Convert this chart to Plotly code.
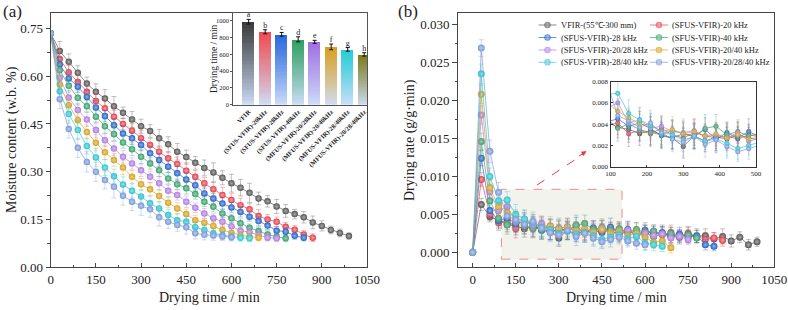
import numpy as np
import plotly.graph_objects as go

W, H = 788, 310
SERIF = "Liberation Serif"

# ---------------- data ----------------
series_names = ["VFIR-(55℃-300 mm)", "(SFUS-VFIR)-20 kHz", "(SFUS-VFIR)-28 kHz", "(SFUS-VFIR)-40 kHz",
                "(SFUS-VFIR)-20/28 kHz", "(SFUS-VFIR)-20/40 kHz", "(SFUS-VFIR)-28/40 kHz", "(SFUS-VFIR)-20/28/40 kHz"]
sample_interval = 30  # min

mc_vfir = [0.735, 0.679, 0.645, 0.611, 0.577, 0.551, 0.530, 0.506, 0.485, 0.464, 0.443, 0.428, 0.405, 0.386,
           0.363, 0.346, 0.328, 0.312, 0.298, 0.281, 0.264, 0.250, 0.234, 0.216, 0.207, 0.191, 0.177, 0.167,
           0.157, 0.141, 0.130, 0.117, 0.108, 0.098]
mc_20 = [0.735, 0.654, 0.612, 0.582, 0.551, 0.522, 0.499, 0.473, 0.450, 0.429, 0.405, 0.384, 0.363, 0.342,
         0.324, 0.303, 0.284, 0.264, 0.245, 0.227, 0.211, 0.195, 0.182, 0.161, 0.150, 0.143, 0.127, 0.118,
         0.103, 0.093]
mc_28 = [0.735, 0.637, 0.593, 0.567, 0.535, 0.502, 0.475, 0.446, 0.420, 0.405, 0.384, 0.358, 0.337, 0.316,
         0.295, 0.276, 0.258, 0.232, 0.216, 0.200, 0.188, 0.174, 0.159, 0.145, 0.131, 0.115, 0.112, 0.099, 0.093]
mc_40 = [0.735, 0.619, 0.570, 0.532, 0.506, 0.473, 0.443, 0.418, 0.392, 0.371, 0.347, 0.326, 0.305, 0.279,
         0.261, 0.248, 0.230, 0.206, 0.190, 0.169, 0.154, 0.138, 0.124, 0.114, 0.103, 0.096, 0.091]
mc_20_28 = [0.735, 0.595, 0.533, 0.494, 0.464, 0.431, 0.399, 0.373, 0.347, 0.326, 0.305, 0.284, 0.264, 0.240,
            0.227, 0.206, 0.187, 0.169, 0.154, 0.143, 0.129, 0.115, 0.110, 0.102, 0.093, 0.091]
mc_20_40 = [0.735, 0.574, 0.509, 0.462, 0.425, 0.391, 0.361, 0.337, 0.313, 0.284, 0.261, 0.245, 0.224, 0.203,
            0.185, 0.167, 0.148, 0.140, 0.130, 0.117, 0.108, 0.101, 0.096, 0.093]
mc_28_40 = [0.735, 0.553, 0.481, 0.431, 0.381, 0.345, 0.313, 0.286, 0.260, 0.240, 0.222, 0.201, 0.185, 0.164,
            0.148, 0.143, 0.126, 0.117, 0.106, 0.101, 0.096, 0.093, 0.091]
mc_20_28_40 = [0.735, 0.528, 0.434, 0.375, 0.331, 0.300, 0.274, 0.253, 0.225, 0.206, 0.193, 0.182, 0.157, 0.143,
               0.133, 0.126, 0.107, 0.102, 0.100, 0.097, 0.095]

mc_err_vfir = [0, 0.030, 0.025, 0.022, 0.020, 0.025, 0.028, 0.030, 0.018, 0.025, 0.022, 0.020, 0.028, 0.024,
               0.026, 0.022, 0.020, 0.025, 0.030, 0.022, 0.028, 0.026, 0.030, 0.020, 0.018, 0.022, 0.020, 0.015,
               0.018, 0.020, 0.016, 0.012, 0.012, 0.010]
mc_err_20 = [0, 0.025, 0.022, 0.020, 0.018, 0.022, 0.025, 0.020, 0.018, 0.022, 0.024, 0.020, 0.018, 0.020, 0.022,
             0.025, 0.020, 0.018, 0.022, 0.024, 0.020, 0.022, 0.018, 0.020, 0.016, 0.015, 0.014, 0.013, 0.012, 0.012]
mc_err_28 = [0, 0.022, 0.020, 0.018, 0.020, 0.022, 0.018, 0.020, 0.025, 0.020, 0.018, 0.022, 0.020, 0.018, 0.022,
             0.020, 0.018, 0.020, 0.016, 0.018, 0.015, 0.016, 0.014, 0.015, 0.013, 0.012, 0.012, 0.011, 0.010]
mc_err_40 = [0, 0.022, 0.020, 0.022, 0.018, 0.020, 0.022, 0.020, 0.018, 0.020, 0.022, 0.018, 0.020, 0.018, 0.016,
             0.018, 0.016, 0.015, 0.016, 0.014, 0.013, 0.014, 0.012, 0.012, 0.011, 0.010, 0.010]
mc_err_20_28 = [0, 0.025, 0.022, 0.020, 0.022, 0.025, 0.020, 0.022, 0.020, 0.018, 0.020, 0.018, 0.020, 0.018,
                0.016, 0.018, 0.015, 0.016, 0.014, 0.014, 0.013, 0.012, 0.012, 0.011, 0.010, 0.010]
mc_err_20_40 = [0, 0.028, 0.030, 0.025, 0.022, 0.025, 0.022, 0.020, 0.022, 0.020, 0.018, 0.020, 0.018, 0.016,
                0.018, 0.016, 0.015, 0.014, 0.014, 0.013, 0.012, 0.011, 0.010, 0.010]
mc_err_28_40 = [0, 0.030, 0.028, 0.030, 0.025, 0.028, 0.025, 0.022, 0.024, 0.022, 0.020, 0.022, 0.020, 0.018,
                0.020, 0.018, 0.016, 0.015, 0.014, 0.013, 0.012, 0.011, 0.010]
mc_err_20_28_40 = [0, 0.030, 0.028, 0.030, 0.032, 0.030, 0.028, 0.035, 0.030, 0.028, 0.030, 0.025, 0.028, 0.022,
                   0.020, 0.022, 0.018, 0.016, 0.015, 0.013, 0.012]

dr_vfir = [0, 0.0063, 0.0047, 0.0042, 0.0037, 0.0035, 0.0031, 0.0034, 0.0030, 0.0027, 0.0019, 0.0029, 0.0024,
           0.0028, 0.0026, 0.0030, 0.0027, 0.0025, 0.0028, 0.0023, 0.0025, 0.0021, 0.0024, 0.0022, 0.0020,
           0.0023, 0.0021, 0.0022, 0.0018, 0.0021, 0.0015, 0.0020, 0.0010, 0.0014]
dr_20 = [0, 0.0096, 0.0050, 0.0039, 0.0041, 0.0031, 0.0034, 0.0031, 0.0036, 0.0030, 0.0027, 0.0032, 0.0029,
         0.0027, 0.0029, 0.0026, 0.0030, 0.0028, 0.0026, 0.0028, 0.0025, 0.0027, 0.0023, 0.0026, 0.0022, 0.0025,
         0.0021, 0.0017, 0.0019, 0.0016]
dr_28 = [0, 0.0124, 0.0055, 0.0042, 0.0045, 0.0038, 0.0041, 0.0036, 0.0029, 0.0027, 0.0031, 0.0029, 0.0035,
         0.0026, 0.0032, 0.0027, 0.0033, 0.0028, 0.0030, 0.0022, 0.0029, 0.0025, 0.0026, 0.0021, 0.0024, 0.0020,
         0.0022, 0.0010, 0.0008]
dr_40 = [0, 0.0146, 0.0068, 0.0045, 0.0036, 0.0040, 0.0035, 0.0032, 0.0030, 0.0034, 0.0031, 0.0028, 0.0036,
         0.0038, 0.0030, 0.0033, 0.0029, 0.0031, 0.0027, 0.0030, 0.0026, 0.0028, 0.0024, 0.0025, 0.0021, 0.0023,
         0.0019]
dr_20_28 = [0, 0.0181, 0.0080, 0.0055, 0.0060, 0.0041, 0.0044, 0.0036, 0.0038, 0.0033, 0.0032, 0.0034, 0.0028,
            0.0030, 0.0027, 0.0032, 0.0024, 0.0027, 0.0029, 0.0023, 0.0025, 0.0022, 0.0024, 0.0019, 0.0021, 0.0017]
dr_20_40 = [0, 0.0208, 0.0085, 0.0060, 0.0052, 0.0046, 0.0040, 0.0039, 0.0033, 0.0035, 0.0031, 0.0033, 0.0029,
            0.0031, 0.0027, 0.0030, 0.0026, 0.0028, 0.0022, 0.0025, 0.0020, 0.0013, 0.0015, 0.0006]
dr_28_40 = [0, 0.0235, 0.0100, 0.0068, 0.0069, 0.0050, 0.0044, 0.0039, 0.0033, 0.0030, 0.0025, 0.0028, 0.0024,
            0.0026, 0.0022, 0.0017, 0.0020, 0.0023, 0.0018, 0.0021, 0.0012, 0.0010, 0.0008]
dr_20_28_40 = [0, 0.0269, 0.0133, 0.0079, 0.0048, 0.0043, 0.0037, 0.0041, 0.0032, 0.0026, 0.0023, 0.0029,
               0.0021, 0.0025, 0.0019, 0.0014, 0.0017, 0.0020, 0.0015, 0.0012, 0.0010]

dr_err_vfir = [0, 0.0008, 0.0007, 0.0009, 0.0010, 0.0012, 0.0011, 0.0013, 0.0012, 0.0010, 0.0011, 0.0012, 0.0010,
               0.0013, 0.0011, 0.0012, 0.0010, 0.0011, 0.0012, 0.0010, 0.0011, 0.0009, 0.0010, 0.0011, 0.0009,
               0.0010, 0.0008, 0.0009, 0.0008, 0.0010, 0.0008, 0.0007, 0.0007, 0.0006]
dr_err_20 = [0, 0.0009, 0.0008, 0.0010, 0.0011, 0.0012, 0.0010, 0.0012, 0.0011, 0.0013, 0.0010, 0.0012, 0.0011,
             0.0010, 0.0012, 0.0011, 0.0010, 0.0012, 0.0009, 0.0011, 0.0010, 0.0009, 0.0011, 0.0010, 0.0008,
             0.0009, 0.0008, 0.0009, 0.0007, 0.0008]
dr_err_28 = [0, 0.0010, 0.0009, 0.0011, 0.0010, 0.0012, 0.0011, 0.0010, 0.0012, 0.0011, 0.0010, 0.0012, 0.0011,
             0.0013, 0.0010, 0.0011, 0.0012, 0.0010, 0.0011, 0.0009, 0.0010, 0.0009, 0.0010, 0.0008, 0.0009,
             0.0008, 0.0009, 0.0007, 0.0006]
dr_err_40 = [0, 0.0011, 0.0009, 0.0010, 0.0012, 0.0011, 0.0010, 0.0012, 0.0011, 0.0010, 0.0012, 0.0011, 0.0013,
             0.0011, 0.0010, 0.0011, 0.0010, 0.0009, 0.0010, 0.0009, 0.0010, 0.0008, 0.0009, 0.0008, 0.0008,
             0.0007, 0.0007]
dr_err_20_28 = [0, 0.0012, 0.0010, 0.0011, 0.0010, 0.0012, 0.0011, 0.0012, 0.0010, 0.0011, 0.0013, 0.0011,
                0.0012, 0.0010, 0.0011, 0.0010, 0.0009, 0.0010, 0.0009, 0.0010, 0.0008, 0.0009, 0.0008, 0.0007,
                0.0008, 0.0007]
dr_err_20_40 = [0, 0.0012, 0.0010, 0.0011, 0.0012, 0.0010, 0.0012, 0.0011, 0.0013, 0.0012, 0.0011, 0.0012,
                0.0010, 0.0011, 0.0010, 0.0011, 0.0009, 0.0010, 0.0009, 0.0008, 0.0009, 0.0008, 0.0007, 0.0007]
dr_err_28_40 = [0, 0.0013, 0.0011, 0.0012, 0.0011, 0.0013, 0.0012, 0.0011, 0.0012, 0.0013, 0.0011, 0.0012,
                0.0010, 0.0011, 0.0012, 0.0010, 0.0009, 0.0010, 0.0009, 0.0008, 0.0009, 0.0008, 0.0007]
dr_err_20_28_40 = [0, 0.0011, 0.0015, 0.0013, 0.0012, 0.0011, 0.0013, 0.0012, 0.0011, 0.0012, 0.0013, 0.0011,
                   0.0012, 0.0010, 0.0011, 0.0009, 0.0010, 0.0009, 0.0008, 0.0008, 0.0007]

bar_labels = ["VFIR", "(SFUS-VFIR)-20kHz", "(SFUS-VFIR)-28kHz", "(SFUS-VFIR)-40kHz", "(MFUS-VFIR)-20/28kHz",
              "(MFUS-VFIR)-20/40kHz", "(MFUS-VFIR)-28/40kHz", "(MFUS-VFIR)-20/28/40kHz"]
bar_values = [990, 870, 840, 780, 750, 690, 660, 600]
bar_errors = [28, 24, 22, 30, 18, 34, 22, 20]
bar_letters = ["a", "b", "c", "d", "e", "f", "g", "h"]

mc_all = [mc_vfir, mc_20, mc_28, mc_40, mc_20_28, mc_20_40, mc_28_40, mc_20_28_40]
mc_err_all = [mc_err_vfir, mc_err_20, mc_err_28, mc_err_40, mc_err_20_28, mc_err_20_40, mc_err_28_40, mc_err_20_28_40]
dr_all = [dr_vfir, dr_20, dr_28, dr_40, dr_20_28, dr_20_40, dr_28_40, dr_20_28_40]
dr_err_all = [dr_err_vfir, dr_err_20, dr_err_28, dr_err_40, dr_err_20_28, dr_err_20_40, dr_err_28_40, dr_err_20_28_40]

# ---------------- styles ----------------
series_colors = ["#555555", "#e5404a", "#2563c9", "#38a06a", "#b07be0", "#d6a21e", "#2ec5cf", "#7a98d8"]
bar_colors = ["#3a3a3a", "#f04a50", "#2a66de", "#2f9f62", "#a070e0", "#d8a020", "#26ccd6", "#7c7a1c"]
bar_light = "#cfe0fa"


def hex2rgb(h):
    h = h.lstrip('#')
    return tuple(int(h[i:i + 2], 16) for i in (0, 2, 4))


def mix(c1, c2, f):
    a, b = hex2rgb(c1), hex2rgb(c2)
    return 'rgb(%d,%d,%d)' % tuple(round(a[i] + (b[i] - a[i]) * f) for i in range(3))


def rgba(c, a):
    r, g, b = hex2rgb(c)
    return f'rgba({r},{g},{b},{a})'


def pxx(x):
    return x / W


def pyy(y):
    return 1 - y / H


A_X = [pxx(50.7), pxx(367.0)]
B_X = [pxx(458.3), pxx(774.3)]
MAIN_Y = [pyy(267.3), pyy(12.5)]
BAR_X = [pxx(233.3), pxx(367.0)]
BAR_Y = [pyy(104.7), pyy(12.5)]
INS_X = [pxx(610.5), pxx(756.0)]
INS_Y = [pyy(166.7), pyy(81.5)]

fig = go.Figure()

# panel (a)
for i in range(8):
    t = np.arange(len(mc_all[i])) * sample_interval
    c = series_colors[i]
    fig.add_trace(go.Scatter(
        x=t, y=mc_all[i], mode='lines+markers', xaxis='x', yaxis='y', showlegend=False,
        line=dict(color=rgba(c, 0.85), width=0.8),
        marker=dict(size=6.5, color=c, gradient=dict(type='radial', color=mix(c, '#ffffff', 0.5)),
                    line=dict(width=0)),
        error_y=dict(type='data', array=mc_err_all[i], color=rgba(c, 0.45), thickness=0.8, width=2.5),
    ))

# panel (b) main
for i in range(8):
    t = np.arange(len(dr_all[i])) * sample_interval
    c = series_colors[i]
    fig.add_trace(go.Scatter(
        x=t, y=dr_all[i], mode='lines+markers', xaxis='x2', yaxis='y2', showlegend=False,
        line=dict(color=rgba(c, 0.85), width=0.8),
        marker=dict(size=7, color=c, gradient=dict(type='radial', color=mix(c, '#ffffff', 0.5)),
                    line=dict(width=0)),
        error_y=dict(type='data', array=dr_err_all[i], color=rgba(c, 0.45), thickness=0.8, width=2.5),
    ))

# panel (b) inset
for i in range(8):
    t = np.arange(len(dr_all[i])) * sample_interval
    c = series_colors[i]
    fig.add_trace(go.Scatter(
        x=t, y=dr_all[i], mode='lines+markers', xaxis='x4', yaxis='y4', showlegend=False,
        line=dict(color=rgba(c, 0.85), width=0.8),
        marker=dict(size=5, color=c, gradient=dict(type='radial', color=mix(c, '#ffffff', 0.5)),
                    line=dict(width=0)),
        error_y=dict(type='data', array=dr_err_all[i], color=rgba(c, 0.45), thickness=0.7, width=1.5),
    ))

# inset bar chart in (a): gradient built from stacked slices
N_SLICES = 30
bar_pos = list(range(len(bar_values)))
for k in range(N_SLICES):
    f = (k + 0.5) / N_SLICES
    cols = [mix(bar_light, c, f ** 0.9) for c in bar_colors]
    fig.add_trace(go.Bar(
        x=bar_pos, y=[v / N_SLICES for v in bar_values], xaxis='x3', yaxis='y3', showlegend=False,
        marker=dict(color=cols, line=dict(width=0)), width=0.72, hoverinfo='skip',
    ))
fig.add_trace(go.Scatter(
    x=bar_pos, y=bar_values, mode='markers', xaxis='x3', yaxis='y3', showlegend=False,
    marker=dict(size=1, color='rgba(0,0,0,0)'),
    error_y=dict(type='data', array=bar_errors, color='#111111', thickness=1, width=2),
))
fig.add_trace(go.Scatter(
    x=bar_pos, y=[v + e for v, e in zip(bar_values, bar_errors)], mode='text', text=bar_letters,
    textposition='top center', xaxis='x3', yaxis='y3', showlegend=False,
    textfont=dict(family=SERIF, size=8, color='#222222'),
))

# manual legend (overlay axis in pixel units)
leg_x0 = [538.5, 650.0]
leg_x1 = [556.5, 668.0]
leg_tx = [558.5, 670.0]
leg_rows = [25.0, 37.5, 50.0, 62.3]
annotations = []
for i in range(8):
    r, cidx = i // 2, i % 2
    c = series_colors[i]
    x0, x1 = leg_x0[cidx], leg_x1[cidx]
    fig.add_trace(go.Scatter(
        x=[x0, (x0 + x1) / 2, x1], y=[leg_rows[r]] * 3, mode='lines+markers', xaxis='x5', yaxis='y5',
        showlegend=False, line=dict(color=rgba(c, 0.85), width=0.8),
        marker=dict(size=[0, 6.5, 0], color=c, gradient=dict(type='radial', color=mix(c, '#ffffff', 0.5)),
                    line=dict(width=0)), hoverinfo='skip'))
    annotations.append(dict(x=pxx(leg_tx[cidx]), y=pyy(leg_rows[r]), xref='paper', yref='paper',
                            text=series_names[i], showarrow=False, xanchor='left', yanchor='middle',
                            font=dict(family=SERIF, size=8.5, color='#222222')))

tickfont = dict(family=SERIF, size=13, color='#222222')
axline = dict(showline=True, mirror=True, linecolor='#444444', linewidth=1.3, showgrid=False, zeroline=False,
              automargin=False)
inline = dict(showline=True, mirror=True, linewidth=1, showgrid=False, zeroline=False, automargin=False)

fig.update_layout(
    template='none',
    width=W, height=H, autosize=False, margin=dict(l=0, r=0, t=0, b=0, pad=0),
    paper_bgcolor='white', plot_bgcolor='rgba(0,0,0,0)', barmode='stack', bargap=0,
    font=dict(family=SERIF, color='#222222'), showlegend=False,
    xaxis=dict(domain=A_X, anchor='y', range=[0, 1050], dtick=150, tick0=0, ticks='inside', ticklen=4,
               tickcolor='#444444', tickfont=tickfont,
               minor=dict(dtick=75, ticks='inside', ticklen=2.5, tickcolor='#444444'), **axline),
    yaxis=dict(domain=MAIN_Y, anchor='x', range=[0, 0.8], dtick=0.15, tick0=0, tickformat='.2f', ticks='outside',
               ticklen=4, tickcolor='#444444', tickfont=tickfont,
               minor=dict(dtick=0.075, ticks='outside', ticklen=2.5, tickcolor='#444444'), **axline),
    xaxis2=dict(domain=B_X, anchor='y2', range=[-50, 1050], dtick=150, tick0=0, ticks='inside', ticklen=4,
                tickcolor='#444444', tickfont=tickfont,
                minor=dict(dtick=75, ticks='inside', ticklen=2.5, tickcolor='#444444'), **axline),
    yaxis2=dict(domain=MAIN_Y, anchor='x2', range=[-0.00197, 0.03158], dtick=0.005, tick0=0, tickformat='.3f',
                ticks='outside', ticklen=5, tickcolor='#444444', tickfont=tickfont,
                minor=dict(dtick=0.0025, ticks='outside', ticklen=2.5, tickcolor='#444444'), **axline),
    xaxis3=dict(domain=BAR_X, anchor='y3', range=[-0.93, 7.17], tickvals=bar_pos, ticktext=bar_labels,
                tickangle=-45, ticks='', tickfont=dict(family=SERIF, size=6.5, color='#222222', weight='bold'),
                linecolor='#555555', **inline),
    yaxis3=dict(domain=BAR_Y, anchor='x3', range=[0, 1100], dtick=200, ticks='outside', ticklen=2,
                tickcolor='#555555', tickfont=dict(family=SERIF, size=6.5, color='#222222'),
                linecolor='#555555', **inline),
    xaxis4=dict(domain=INS_X, anchor='y4', range=[100, 500], dtick=100, ticks='inside', ticklen=2,
                tickcolor='#333333', tickfont=dict(family=SERIF, size=7, color='#222222'),
                linecolor='#333333', **inline),
    yaxis4=dict(domain=INS_Y, anchor='x4', range=[0, 0.008], dtick=0.002, tickformat='.3f', ticks='inside',
                ticklen=2, tickcolor='#333333', tickfont=dict(family=SERIF, size=7, color='#222222'),
                linecolor='#333333', **inline),
    xaxis5=dict(domain=[0, 1], anchor='y5', range=[0, W], visible=False, fixedrange=True, automargin=False),
    yaxis5=dict(domain=[0, 1], anchor='x5', range=[H, 0], visible=False, fixedrange=True, automargin=False),
)

# zoom region and arrow in (b)
fig.add_shape(type='rect', xref='x2', yref='y2', x0=100, x1=520, y0=-0.0009, y1=0.0083,
              fillcolor='rgba(228,232,218,0.5)', line=dict(color='#f08a8a', width=1, dash='dash'), layer='below')
fig.add_shape(type='line', xref='x2', yref='y2', x0=224, y0=0.00886, x1=392, y1=0.0131,
              line=dict(color='#e83a3a', width=1, dash='dash'))
annotations.append(dict(x=396, y=0.01333, xref='x2', yref='y2', text='', showarrow=True, ax=-9, ay=6,
                        arrowhead=2, arrowsize=1, arrowwidth=1, arrowcolor='#e83a3a', standoff=0))

title_font = dict(family=SERIF, size=14, color='#222222')


def label(x, y, text, font, angle=0):
    return dict(x=pxx(x), y=pyy(y), xref='paper', yref='paper', text=text, showarrow=False,
                xanchor='center', yanchor='middle', textangle=angle, font=font)


annotations += [
    label(12, 11, '(a)', dict(family=SERIF, size=17, color='#222222')),
    label(408, 11, '(b)', dict(family=SERIF, size=17, color='#222222')),
    label(12, 140, 'Moisture content (w.b. %)', title_font, -90),
    label(209, 297, 'Drying time / min', title_font),
    label(410, 140, 'Drying rate (g/g·min)', title_font, -90),
    label(616, 297, 'Drying time / min', title_font),
    label(213.5, 58.5, 'Drying time / min', dict(family=SERIF, size=9.5, color='#222222'), -90),
]
fig.update_layout(annotations=annotations)

fig.write_html("out.html")
